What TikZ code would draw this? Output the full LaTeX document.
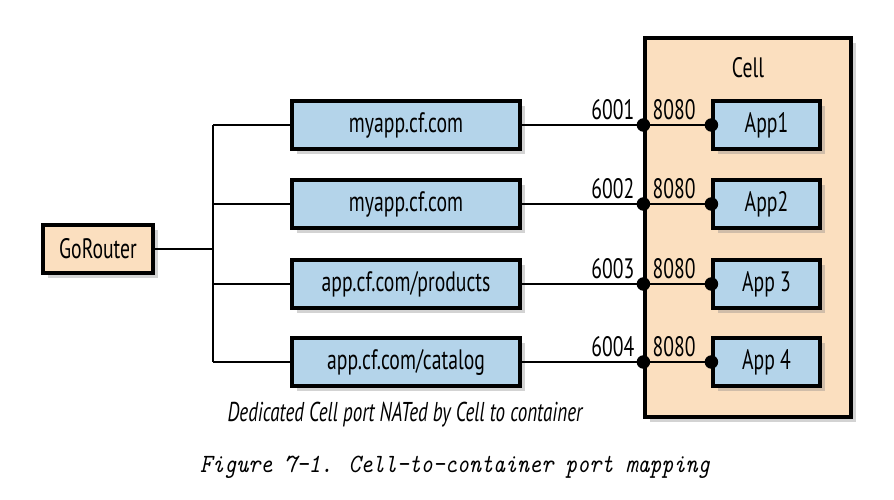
\documentclass[tikz,border=0pt]{standalone}
\usepackage{fontspec}
\newfontfamily\figfont{PT Sans}[FakeStretch=0.7]
\usepackage{tikz}
\usetikzlibrary{positioning}
\usetikzlibrary{shadows}
\definecolor{peach}{HTML}{FBDFBF}
\definecolor{paleblue}{HTML}{B4D4EA}

\begin{document}
\begin{tikzpicture}[x=0.02cm,y=-0.02cm,
        every node/.style={font=\figfont\fontsize{16}{18}\selectfont},
        box/.style={draw,line width=1.8pt,minimum height=0.96cm,inner sep=0pt,
            drop shadow={opacity=0.35,shadow xshift=3pt,shadow yshift=-3pt}},
        route/.style={box,fill=paleblue,minimum width=4.56cm},
        app/.style={box,fill=paleblue,minimum width=2.14cm},
        wire/.style={line width=1.4pt},
        port/.style={circle,fill=black,inner sep=0pt,minimum size=0.27cm}]
        \useasboundingbox (0,0) rectangle (894,500);

        % the cell
        \node[box,fill=peach,minimum width=4.12cm,minimum height=7.58cm] (cell) at (748,227.5) {};
        \node[] (celllabel) at (748,68) {Cell};

        % router and trunk
        \node[box,fill=peach,minimum width=2.2cm] (gorouter) at (98,249) {GoRouter};
        \coordinate (trunk) at (213,249);
        \coordinate (ttop) at (213,125);
        \coordinate (tbot) at (213,362);
        \draw[wire] (gorouter) -- (trunk);
        \draw[wire] (ttop) -- (tbot);

        % routes
        \node[route] (r1) at (406,125) {myapp.cf.com};
        \node[route] (r2) at (406,204) {myapp.cf.com};
        \node[route] (r3) at (406,284) {app.cf.com/products};
        \node[route] (r4) at (406,362) {app.cf.com/catalog};

        % apps
        \node[app] (a1) at (766.5,125) {App1};
        \node[app] (a2) at (766.5,204) {App2};
        \node[app] (a3) at (766.5,284) {App 3};
        \node[app] (a4) at (766.5,362) {App 4};

        \foreach \i/\p in {1/6001,2/6002,3/6003,4/6004}{
            \coordinate (b\i) at (213,0 |- r\i);
            \node[port] (p\i) at (cell.west |- r\i) {};
            \node[port] (q\i) at (a\i.west) {};
            \draw[wire] (b\i) -- (r\i.west);
            \draw[wire] (r\i.east) -- (p\i.center);
            \draw[wire] (p\i.center) -- (q\i.center);
            \node[anchor=base east,inner sep=0pt] (ext\i) at ([xshift=-5pt,yshift=3pt]p\i.center) {\p};
            \node[anchor=base west,inner sep=0pt] (int\i) at ([xshift=5pt,yshift=3pt]p\i.center) {8080};
        }

        \node[font=\figfont\fontsize{15.5}{18}\selectfont] (note) at (405,415) {\itshape Dedicated Cell port NATed by Cell to container};
        \node[font=\ttfamily\itshape\fontsize{15}{17}\selectfont] (caption) at (455,467) {\scalebox{0.87}[1]{Figure 7-1. Cell-to-container port mapping}};
\end{tikzpicture}
\end{document}
